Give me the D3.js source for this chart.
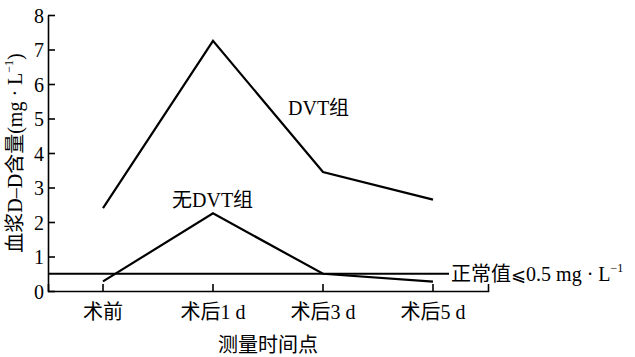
<!DOCTYPE html>
<html>
<head>
<meta charset="utf-8">
<script src="https://cdn.jsdelivr.net/npm/d3@7"></script>
<style>
  html, body { margin: 0; padding: 0; background: #fff; }
  svg { display: block; }
  text { font-family: "Liberation Serif", "Noto Sans CJK SC", serif; fill: #000; }
</style>
</head>
<body>
<svg id="chart" width="635" height="357"></svg>
<script>
// Time points after surgery
const categories = ["术前", "术后1 d", "术后3 d", "术后5 d"];
// Plasma D-dimer, mg/L
const dvtValues = [2.4, 7.25, 3.45, 2.65];
const noDvtValues = [0.28, 2.25, 0.5, 0.27];
const normalLimit = 0.5;
const yTicks = [0, 1, 2, 3, 4, 5, 6, 7, 8];

const svg = d3.select("#chart");
const plotLeft = 48, plotRight = 488, plotTop = 15, plotBottom = 291;

const x = d3.scaleBand().domain(categories).range([plotLeft, plotRight]).paddingInner(0).paddingOuter(0);
const y = d3.scaleLinear().domain([0, 8]).range([plotBottom, plotTop]);
const cx = d => x(d) + x.bandwidth() / 2;

// x axis, ticks pointing into the plot
const xAxis = svg.append("g")
  .attr("transform", `translate(0,${plotBottom})`)
  .call(d3.axisBottom(x).tickSizeInner(-7).tickSizeOuter(-7).tickPadding(14));
xAxis.selectAll("text").attr("font-size", 20).attr("dy", "0.71em");

// y axis
const yAxis = svg.append("g")
  .attr("transform", `translate(${plotLeft},0)`)
  .call(d3.axisLeft(y).tickValues(yTicks).tickFormat(d3.format("d")).tickSize(-7).tickSizeOuter(0).tickPadding(4));
yAxis.selectAll("text").attr("font-size", 20).attr("dy", "0.36em");

svg.selectAll(".domain, .tick line").attr("stroke", "#000").attr("stroke-width", 1.6);

// normal upper limit
svg.append("line")
  .attr("x1", plotLeft).attr("x2", 449)
  .attr("y1", y(normalLimit)).attr("y2", y(normalLimit))
  .attr("stroke", "#000").attr("stroke-width", 2);

const line = d3.line().x((d, i) => cx(categories[i])).y(d => y(d));

[dvtValues, noDvtValues].forEach(vals => {
  svg.append("path")
    .attr("d", line(vals))
    .attr("fill", "none")
    .attr("stroke", "#000")
    .attr("stroke-width", 2.2)
    .attr("stroke-linejoin", "miter");
});

// series labels
svg.append("text").attr("x", 288).attr("y", 115).attr("font-size", 20).text("DVT组");
svg.append("text").attr("x", 172).attr("y", 207).attr("font-size", 20).text("无DVT组");

// normal range label
const nl = svg.append("text").attr("x", 451).attr("y", y(normalLimit) + 7).attr("font-size", 20);
nl.append("tspan").text("正常值");
nl.append("tspan").attr("font-family", "DejaVu Sans, Liberation Serif").attr("font-size", 18).text("⩽");
nl.append("tspan").text("0.5 mg · L");
nl.append("tspan").attr("font-size", 12).attr("dy", -9).text("−1");

// axis titles
svg.append("text")
  .attr("x", 268).attr("y", 352)
  .attr("text-anchor", "middle").attr("font-size", 20)
  .text("测量时间点");

const yl = svg.append("text")
  .attr("transform", `translate(22,${(plotTop + plotBottom) / 2}) rotate(-90)`)
  .attr("text-anchor", "middle").attr("font-size", 20);
yl.append("tspan").text("血浆");
yl.append("tspan").attr("font-family", "Liberation Serif").text("D–D");
yl.append("tspan").text("含量");
yl.append("tspan").attr("font-family", "Liberation Serif").text("(mg · L");
yl.append("tspan").attr("font-family", "Liberation Serif").attr("font-size", 12).attr("dy", -9).text("−1");
yl.append("tspan").attr("font-family", "Liberation Serif").attr("dy", 9).text(")");
</script>
</body>
</html>
